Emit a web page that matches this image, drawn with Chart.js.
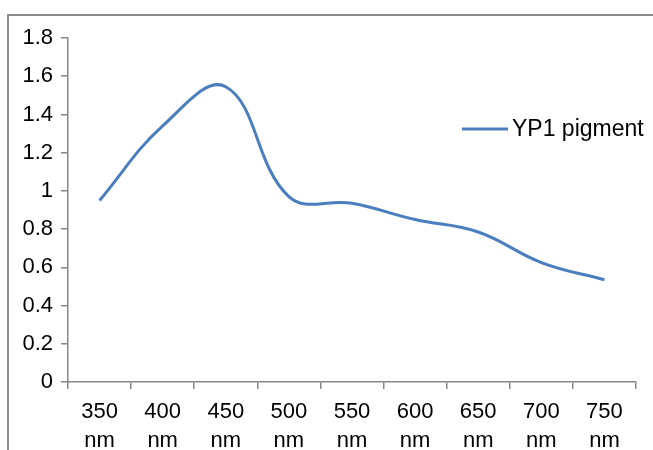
<!DOCTYPE html>
<html>
<head>
<meta charset="utf-8">
<script src="https://cdn.jsdelivr.net/npm/chart.js@4/dist/chart.umd.min.js"></script>
<style>
  html, body { margin: 0; padding: 0; background: #ffffff; }
  #wrap { position: relative; width: 653px; height: 450px; }
</style>
</head>
<body>
<div id="wrap"><canvas id="c" width="653" height="450"></canvas></div>
<script>
const categories = [["350", "nm"], ["400", "nm"], ["450", "nm"], ["500", "nm"], ["550", "nm"], ["600", "nm"], ["650", "nm"], ["700", "nm"], ["750", "nm"]];
const seriesName = "YP1 pigment";
const seriesValues = [0.95, 1.34, 1.545, 0.97, 0.935, 0.85, 0.785, 0.625, 0.535];
const yTickValues = [0, 0.2, 0.4, 0.6, 0.8, 1, 1.2, 1.4, 1.6, 1.8];

const FONT = "'Liberation Sans', Arial, sans-serif";
const LINE_COLOR = "#4A7EBF";
const AXIS_COLOR = "#878787";

const frameAndLegend = {
  id: "frameAndLegend",
  afterDraw(chart) {
    const ctx = chart.ctx;
    const ca = chart.chartArea;
    ctx.save();
    // outer frame (top + left)
    ctx.strokeStyle = "#8a8a8a";
    ctx.lineWidth = 2;
    ctx.beginPath();
    ctx.moveTo(8, chart.height);
    ctx.lineTo(8, 15);
    ctx.lineTo(chart.width, 15);
    ctx.stroke();
    // legend
    const ly = ca.top + 91;
    const lx = ca.right - 174;
    ctx.strokeStyle = LINE_COLOR;
    ctx.lineWidth = 3;
    ctx.beginPath();
    ctx.moveTo(lx, ly);
    ctx.lineTo(lx + 46, ly);
    ctx.stroke();
    ctx.fillStyle = "#000";
    ctx.font = "23px " + FONT;
    ctx.textBaseline = "middle";
    ctx.textAlign = "left";
    ctx.fillText(seriesName, lx + 50, ly + 1);
    ctx.restore();
  }
};

new Chart(document.getElementById("c"), {
  type: "line",
  data: {
    labels: categories,
    datasets: [{
      label: seriesName,
      data: seriesValues,
      borderColor: LINE_COLOR,
      backgroundColor: LINE_COLOR,
      borderWidth: 3,
      pointRadius: 0,
      tension: 0.4,
      fill: false
    }]
  },
  options: {
    responsive: false,
    animation: false,
    devicePixelRatio: 1,
    layout: { padding: { left: 8, top: 38, right: 17, bottom: 0 } },
    plugins: {
      legend: { display: false },
      tooltip: { enabled: false }
    },
    scales: {
      x: {
        offset: true,
        grid: {
          offset: true,
          drawOnChartArea: false,
          drawTicks: true,
          tickLength: 7,
          color: AXIS_COLOR,
          lineWidth: 1.5
        },
        border: { color: AXIS_COLOR, width: 1.5 },
        ticks: {
          color: "#000",
          font: { family: FONT, size: 22, lineHeight: 1.3 },
          padding: 9,
          maxRotation: 0,
          autoSkip: false
        },
        afterFit(scale) { scale.height = 68; }
      },
      y: {
        min: 0,
        max: 1.8,
        grid: {
          drawOnChartArea: false,
          drawTicks: true,
          tickLength: 7,
          color: AXIS_COLOR,
          lineWidth: 1.5
        },
        border: { color: AXIS_COLOR, width: 1.5 },
        afterBuildTicks(scale) {
          scale.ticks = yTickValues.map(v => ({ value: v }));
        },
        ticks: {
          color: "#000",
          font: { family: FONT, size: 22 },
          padding: 8,
          callback: (v) => String(Number(v.toFixed(1)))
        },
        afterFit(scale) { scale.width = 60; }
      }
    }
  },
  plugins: [frameAndLegend]
});
</script>
</body>
</html>
